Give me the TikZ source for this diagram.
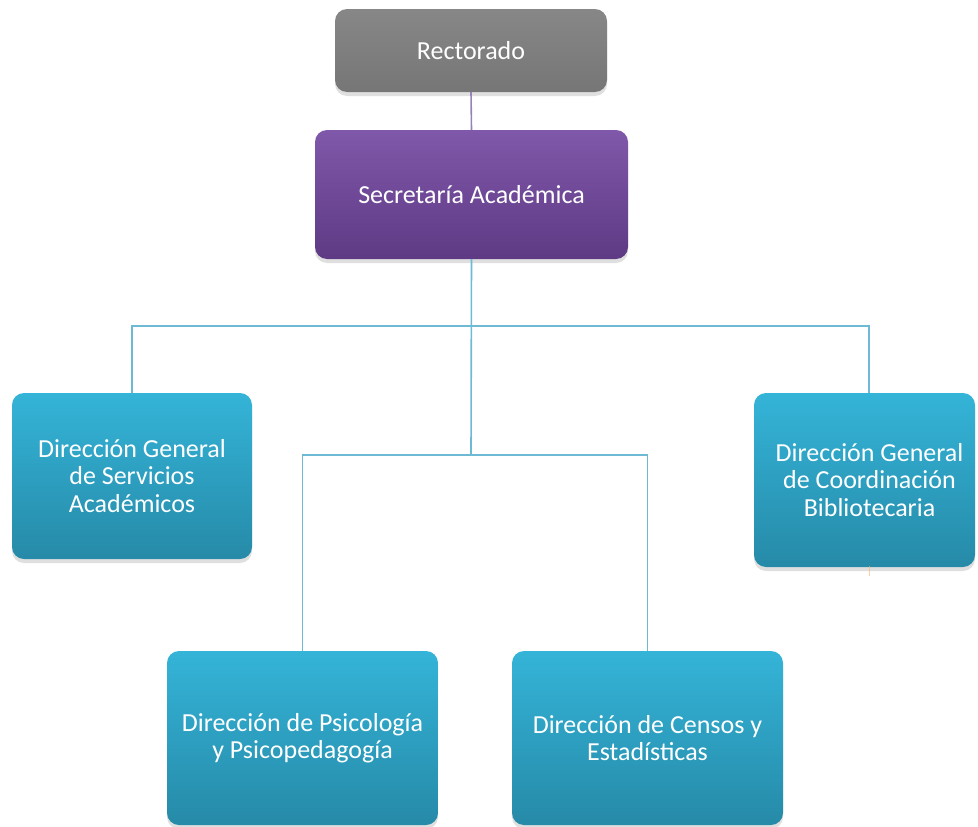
\documentclass[tikz,border=0pt]{standalone}
\usepackage{fontspec}
\setmainfont{Carlito}
\usetikzlibrary{shadows,calc}
\definecolor{grayT}{RGB}{135,135,135}
\definecolor{grayB}{RGB}{118,118,118}
\definecolor{purT}{RGB}{128,88,170}
\definecolor{purB}{RGB}{94,58,132}
\definecolor{bluT}{RGB}{52,180,216}
\definecolor{bluB}{RGB}{38,138,168}
\definecolor{lineB}{RGB}{110,185,212}
\definecolor{lineP}{RGB}{150,130,180}
\tikzset{
  box/.style={rectangle, rounded corners=12pt, text=white, align=center,
    font=\fontsize{26}{27.5}\selectfont, inner sep=0pt,
    drop shadow={shadow xshift=0pt, shadow yshift=-4pt, opacity=0.25}},
  graybox/.style={box, top color=grayT, bottom color=grayB},
  purbox/.style={box, top color=purT, bottom color=purB},
  blubox/.style={box, top color=bluT, bottom color=bluB},
  boxtext/.style={text=white, align=center, font=\fontsize{26}{27.5}\selectfont, inner sep=0pt},
  conn/.style={draw=lineB, line width=1.6pt},
}
\begin{document}
\begin{tikzpicture}[x=1pt,y=-1pt]
\useasboundingbox (0,0) rectangle (978,827);
\coordinate (b1) at (471,326);
\coordinate (b2) at (471,455);
\coordinate (rtop) at (869,393);
\coordinate (tick1) at (869,566);
\coordinate (tick2) at (869,576);
\node[graybox, minimum width=272pt, minimum height=83pt] (rec) at (471,50.5) {Rectorado};
\node[purbox, minimum width=313pt, minimum height=129pt] (sec) at (471.5,194.5) {Secretaría Académica};
\node[blubox, minimum width=240pt, minimum height=166pt] (dgsa) at (132,476) {Dirección General\\de Servicios\\Académicos};
\node[blubox, minimum width=221pt, minimum height=174pt] (dgcb) at (864.5,480) {};
\node[boxtext] (dgcbt) at (869.5,480) {Dirección General\\de Coordinación\\Bibliotecaria};
\node[blubox, minimum width=271pt, minimum height=174pt] (dpp) at (302.5,738) {Dirección de Psicología\\y Psicopedagogía};
\node[blubox, minimum width=271pt, minimum height=174pt] (dce) at (647.5,738) {Dirección de Censos y\\Estadísticas};
\draw[draw=lineP, line width=1.6pt] (rec.south) -- (sec.north);
\draw[conn] (sec.south) -- (b2);
\draw[conn] (dgsa.north) |- (b1) -| (rtop);
\draw[conn] (dpp.north) |- (b2) -| (dce.north);
\draw[draw=orange!60, line width=1pt, opacity=0.6] (tick1) -- (tick2);
\end{tikzpicture}
\end{document}
